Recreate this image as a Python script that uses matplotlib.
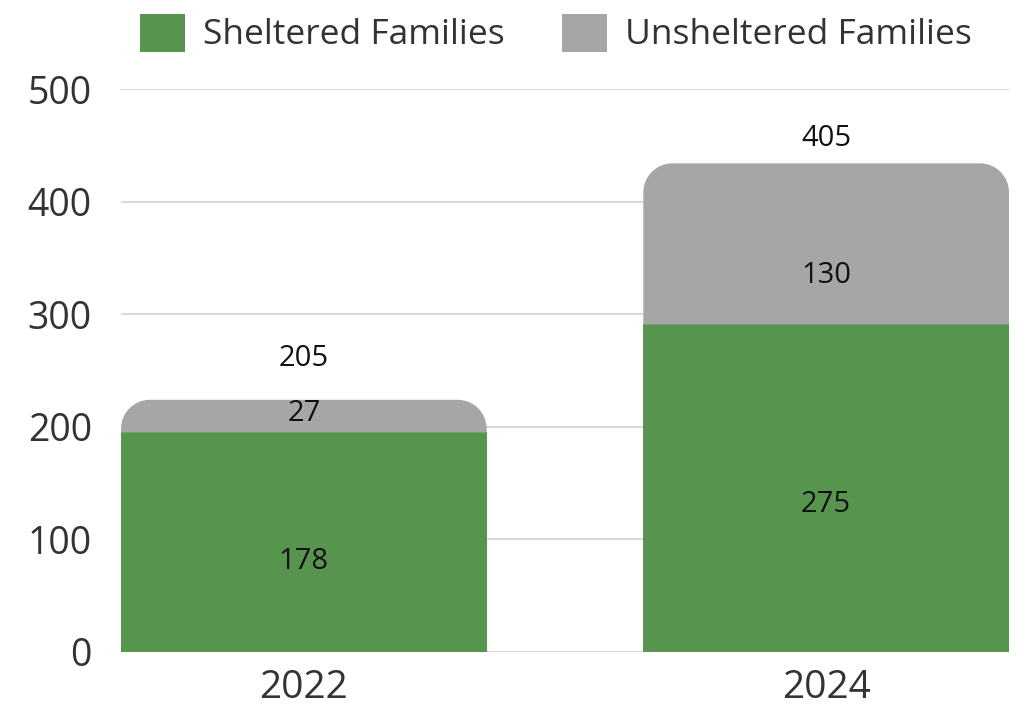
import matplotlib
matplotlib.use("Agg")
import matplotlib.pyplot as plt
from matplotlib.path import Path
from matplotlib.patches import PathPatch, Patch
import numpy as np

# ---- data ----
years = ["2022", "2024"]
sheltered = [178, 275]          # printed values
unsheltered = [27, 130]         # printed values
totals = [205, 405]             # printed totals
# bar heights as drawn in the reference (value axis units)
sheltered_drawn = [195, 291]
unsheltered_drawn = [29, 143]
# label anchor heights as placed in the reference (value axis units)
sheltered_label_y = [80, 131]
unsheltered_label_y = [212, 334]
total_label_y = [261, 456]

y_ticks = [0, 100, 200, 300, 400, 500]
series_names = ["Sheltered Families", "Unsheltered Families"]

GREEN = "#57954f"
GRAY = "#a6a6a6"
FONT = "Open Sans"

plt.rcParams["font.family"] = [FONT, "DejaVu Sans"]

W, H = 1018, 705
fig = plt.figure(figsize=(W / 100, H / 100), dpi=100)
ax_l, ax_r, ax_b, ax_t = 121, 1009, 652, 89
ax = fig.add_axes([ax_l / W, 1 - ax_b / H, (ax_r - ax_l) / W, (ax_b - ax_t) / H])

xlim = (-0.35, 1.35)
ylim = (0, 500)
ax.set_xlim(*xlim)
ax.set_ylim(*ylim)

x = np.arange(len(years))
bw = 0.7

# gridlines
for t in y_ticks:
    ax.axhline(t, color="#d9d9d9", lw=1.5, zorder=0)

# sheltered bars
ax.bar(x, sheltered_drawn, width=bw, color=GREEN, zorder=2, linewidth=0)

# unsheltered bars with rounded top corners
ppx = (ax_r - ax_l) / (xlim[1] - xlim[0])
ppy = (ax_b - ax_t) / (ylim[1] - ylim[0])
r_px = 29
rx, ry = r_px / ppx, r_px / ppy
k = 0.5523
for xi, b, h in zip(x, sheltered_drawn, unsheltered_drawn):
    x0, x1 = xi - bw / 2, xi + bw / 2
    y0, y1 = b, b + h
    ryy = min(ry, h)
    verts = [
        (x0, y0),
        (x0, y1 - ryy),
        (x0, y1 - ryy + k * ryy), (x0 + rx - k * rx, y1), (x0 + rx, y1),
        (x1 - rx, y1),
        (x1 - rx + k * rx, y1), (x1, y1 - ryy + k * ryy), (x1, y1 - ryy),
        (x1, y0),
        (x0, y0),
    ]
    codes = [Path.MOVETO, Path.LINETO,
             Path.CURVE4, Path.CURVE4, Path.CURVE4,
             Path.LINETO,
             Path.CURVE4, Path.CURVE4, Path.CURVE4,
             Path.LINETO, Path.CLOSEPOLY]
    ax.add_patch(PathPatch(Path(verts, codes), facecolor=GRAY, edgecolor="none", zorder=2))

# labels
LBL = 21
for xi, v, yl in zip(x, sheltered, sheltered_label_y):
    ax.text(xi, yl, str(v), ha="center", va="center", fontsize=LBL, color="#111111", zorder=3)
for xi, v, yl in zip(x, unsheltered, unsheltered_label_y):
    ax.text(xi, yl, str(v), ha="center", va="center", fontsize=LBL, color="#111111", zorder=3)
for xi, v, yl in zip(x, totals, total_label_y):
    ax.text(xi, yl, str(v), ha="center", va="center", fontsize=LBL, color="#111111", zorder=3,
            clip_on=False)

# axes styling
for s in ax.spines.values():
    s.set_visible(False)
ax.set_yticks(y_ticks)
ax.set_yticklabels([str(t) for t in y_ticks])
ax.set_xticks(x)
ax.set_xticklabels(years)
ax.tick_params(axis="y", length=0, pad=21, labelsize=27, labelcolor="#333333")
ax.tick_params(axis="x", length=0, pad=12, labelsize=28, labelcolor="#333333")

# legend: one entry per series, placed at the reference positions
LEG = 25.5
em = LEG * 100 / 72
for name, col, left_px in zip(series_names, [GREEN, GRAY], [140, 562]):
    fig.legend(handles=[Patch(facecolor=col, edgecolor="none", label=name)],
               loc="center left", bbox_to_anchor=(left_px / W, 1 - 33 / H),
               frameon=False, fontsize=LEG, handlelength=45 / em, handleheight=45 / em,
               handletextpad=18 / em, borderpad=0, borderaxespad=0, labelcolor="#333333")

fig.savefig("out.png", dpi=100)
